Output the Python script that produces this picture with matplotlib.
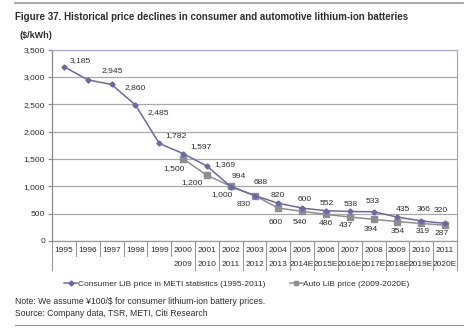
import matplotlib
matplotlib.use('Agg')
import matplotlib.pyplot as plt
from matplotlib.lines import Line2D

plt.rcParams['font.family'] = ['Liberation Sans', 'DejaVu Sans']

# 数据
years = ['1995', '1996', '1997', '1998', '1999', '2000', '2001', '2002', '2003',
         '2004', '2005', '2006', '2007', '2008', '2009', '2010', '2011']
years2 = ['', '', '', '', '', '2009', '2010', '2011', '2012', '2013', '2014E',
          '2015E', '2016E', '2017E', '2018E', '2019E', '2020E']
consumer = [3185, 2945, 2860, 2485, 1782, 1597, 1369, 994, 830, 688, 600, 552,
            538, 533, 435, 366, 320]
consumer_lbl = ['3,185', '2,945', '2,860', '2,485', '1,782', '1,597', '1,369', '994',
                '688', '820', '600', '552', '538', '533', '435', '366', '320']
auto = [None, None, None, None, None, 1500, 1200, 1000, 830, 600, 540, 486,
        437, 394, 354, 319, 287]
auto_lbl = ['', '', '', '', '', '1,500', '1,200', '1,000', '830', '600', '540', '486',
            '437', '394', '354', '319', '287']

# 标签偏移 (像素)
c_off = [(16, 6), (24, 9), (23, -3), (23, -8), (17, 8), (18, 7), (18, 1), (8, 10),
         (6, 13), (-1, 8), (3, 9), (1, 7), (1, 7), (-1, 10), (5, 8), (2, 11), (-4, 13)]
a_off = [None] * 5 + [(-9, -10), (-15, -7), (-9, -8), (-11, -9), (-3, -14), (-2, -11),
                      (0, -9), (-4, -8), (-3, -10), (0, -10), (2, -8), (-3, -8)]

purple = '#6b68a8'
grey = '#8e8e8e'
txt = '#2e2e2e'

fig = plt.figure(figsize=(4.74, 3.30), dpi=100)
ax = fig.add_axes([0.110, 0.270, 0.854, 0.580])

x = list(range(len(years)))
ax.plot(x, consumer, color=purple, lw=1.1, marker='D', ms=2.6, zorder=4)
ax_x = [i for i in x if auto[i] is not None]
ax_y = [auto[i] for i in ax_x]
ax.plot(ax_x, ax_y, color=grey, lw=1.1, marker='s', ms=4, zorder=3)

for i in x:
    ax.annotate(consumer_lbl[i], (i, consumer[i]), xytext=c_off[i],
                textcoords='offset pixels', ha='center', va='center',
                fontsize=6.1, color=txt)
    if auto[i] is not None:
        ax.annotate(auto_lbl[i], (i, auto[i]), xytext=a_off[i],
                    textcoords='offset pixels', ha='center', va='center',
                    fontsize=6.1, color=txt)

ax.set_xlim(-0.5, len(years) - 0.5)
ax.set_ylim(0, 3500)
ax.set_yticks(range(0, 3501, 500))
ax.set_yticklabels(['{:,}'.format(v) for v in range(0, 3501, 500)], fontsize=6.1, color=txt)
ax.set_xticks([])
ax.tick_params(axis='y', length=3, width=0.8, color='#888888', pad=2)
ax.grid(True, axis='y', color='#a8a8a8', lw=0.9)
ax.set_axisbelow(True)

ax.spines['left'].set_color('#888888')
ax.spines['bottom'].set_color('#999999')
ax.spines['top'].set_color('#a9a9d0')
ax.spines['right'].set_color('#a9a9d0')
for s in ax.spines.values():
    s.set_linewidth(0.9)

# 横轴分类表格
for i in x:
    ax.text(i, -0.052, years[i], transform=ax.get_xaxis_transform(), ha='center',
            va='center', fontsize=6, color=txt)
    if years2[i]:
        ax.text(i, -0.125, years2[i], transform=ax.get_xaxis_transform(), ha='center',
                va='center', fontsize=6, color=txt)
for i in range(len(years) + 1):
    b = i - 0.5
    low = -0.151 if (i == 0 or i >= 6) else -0.078
    ax.plot([b, b], [0, low], transform=ax.get_xaxis_transform(), color='#999999',
            lw=0.8, clip_on=False)

# 图例
handles = [Line2D([], [], color=purple, lw=1.1, marker='D', ms=2.6),
           Line2D([], [], color=grey, lw=1.1, marker='s', ms=3.5)]
fig.legend(handles, ['Consumer LiB price in METI statistics (1995-2011)',
                     'Auto LiB price (2009-2020E)'],
           loc='center', bbox_to_anchor=(0.50, 1 - 284 / 330), ncol=2, frameon=False,
           fontsize=6, handlelength=1.5, handletextpad=0.1, columnspacing=3,
           labelcolor=txt)

fig.text(15 / 474, 1 - 17 / 330,
         'Figure 37. Historical price declines in consumer and automotive lithium-ion batteries',
         fontsize=7, fontweight='bold', color=txt, va='center', ha='left')
fig.text(20 / 474, 1 - 36 / 330, '($/kWh)', fontsize=6.5, fontweight='bold',
         color=txt, va='center', ha='left')
fig.text(15 / 474, 1 - 301 / 330,
         'Note: We assume \u00a5100/$ for consumer lithium-ion battery prices.',
         fontsize=6.2, color=txt, va='center', ha='left')
fig.text(15 / 474, 1 - 313 / 330, 'Source: Company data, TSR, METI, Citi Research',
         fontsize=6.2, color=txt, va='center', ha='left')

fig.add_artist(Line2D([15 / 474, 463 / 474], [1 - 3 / 330] * 2, color='#999999', lw=1.2))
fig.add_artist(Line2D([15 / 474, 463 / 474], [1 - 325 / 330] * 2, color='#999999', lw=0.8))

fig.savefig('out.png', dpi=100)
